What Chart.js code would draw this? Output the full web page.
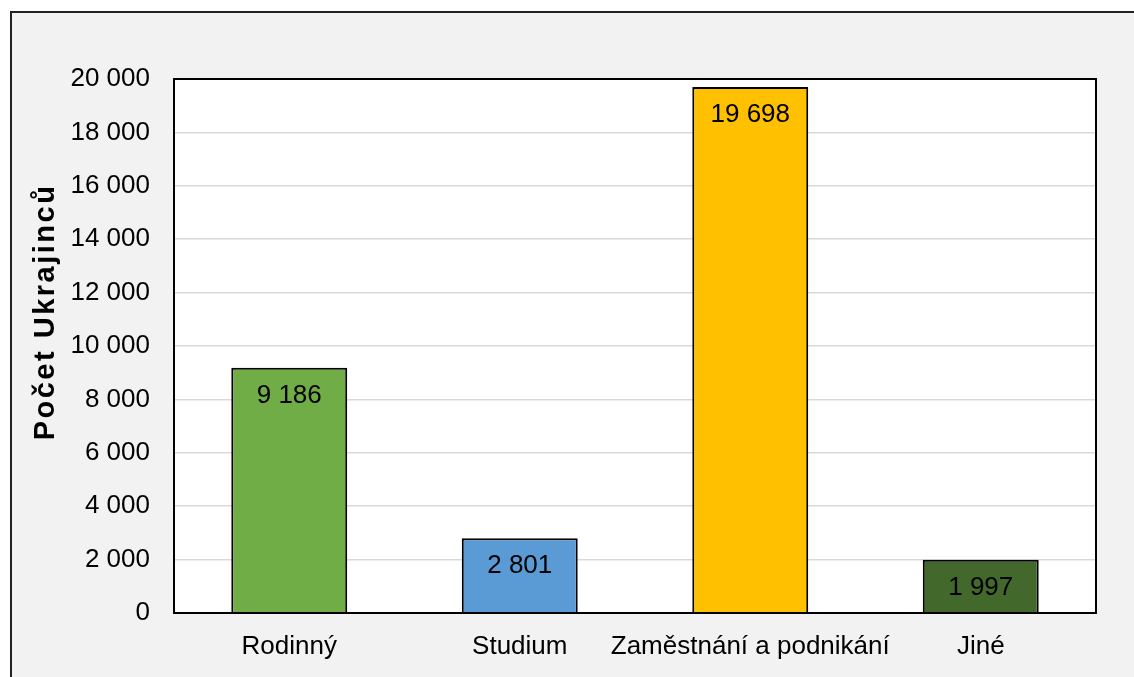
<!DOCTYPE html>
<html>
<head>
<meta charset="utf-8">
<script src="https://cdn.jsdelivr.net/npm/chart.js@4/dist/chart.umd.min.js"></script>
<style>
  body { margin: 0; background: #fff; }
  #chart { display: block; }
</style>
</head>
<body>
<canvas id="chart" width="1134" height="677"></canvas>
<script>
const categories = ['Rodinný', 'Studium', 'Zaměstnání a podnikání', 'Jiné'];
const counts = [9186, 2801, 19698, 1997];
const barColors = ['#70ad47', '#5b9bd5', '#ffc000', '#43682b'];
const axisTitle = 'Počet Ukrajinců';

const font = '"Liberation Sans", Arial, sans-serif';

function fmt(v) {
  return String(v).replace(/\B(?=(\d{3})+(?!\d))/g, ' ');
}

// gray frame behind everything, plot border, value labels, axis title
const framePlugin = {
  id: 'frame',
  beforeDraw(chart) {
    const ctx = chart.ctx;
    ctx.save();
    ctx.fillStyle = '#f2f2f2';
    ctx.fillRect(11, 12, chart.width, chart.height);
    ctx.strokeStyle = '#222';
    ctx.lineWidth = 2;
    ctx.beginPath();
    ctx.moveTo(11, chart.height + 5);
    ctx.lineTo(11, 12);
    ctx.lineTo(chart.width + 5, 12);
    ctx.stroke();
    const a = chart.chartArea;
    ctx.fillStyle = '#fff';
    ctx.fillRect(a.left, a.top, a.right - a.left, a.bottom - a.top);
    ctx.restore();
  },
  afterDatasetsDraw(chart) {
    const ctx = chart.ctx;
    const a = chart.chartArea;
    ctx.save();
    ctx.strokeStyle = '#000';
    ctx.lineWidth = 2;
    ctx.strokeRect(a.left, a.top, a.right - a.left, a.bottom - a.top);
    ctx.fillStyle = '#000';
    ctx.font = '26px ' + font;
    ctx.textAlign = 'center';
    ctx.textBaseline = 'middle';
    chart.getDatasetMeta(0).data.forEach((bar, i) => {
      ctx.fillText(fmt(counts[i]), bar.x, bar.y + 28);
    });
    // y axis title
    ctx.translate(46, 312);
    ctx.rotate(-Math.PI / 2);
    ctx.font = 'bold 29px ' + font;
    ctx.letterSpacing = '2.5px';
    ctx.fillText(axisTitle, 0, 0);
    ctx.restore();
  }
};

new Chart(document.getElementById('chart'), {
  type: 'bar',
  data: {
    labels: categories,
    datasets: [{
      data: counts,
      backgroundColor: barColors,
      borderColor: '#000',
      borderWidth: 2,
      categoryPercentage: 1,
      barPercentage: 0.503
    }]
  },
  options: {
    responsive: false,
    animation: false,
    layout: { padding: { left: 29, top: 79, right: 38, bottom: 0 } },
    plugins: {
      legend: { display: false },
      tooltip: { enabled: false }
    },
    scales: {
      x: {
        grid: { display: false, drawTicks: false },
        border: { display: false },
        ticks: { color: '#000', font: { family: font, size: 26 }, padding: 18, maxRotation: 0, autoSkip: false },
        afterFit(scale) { scale.height = 64; }
      },
      y: {
        min: 0,
        max: 20000,
        grid: { color: '#d9d9d9', lineWidth: 1.5, drawTicks: false },
        border: { display: false },
        ticks: {
          stepSize: 2000,
          color: '#000',
          padding: 24,
          font: { family: font, size: 26 },
          callback: v => fmt(v)
        },
        afterFit(scale) { scale.width = 145; }
      }
    }
  },
  plugins: [framePlugin]
});
</script>
</body>
</html>
